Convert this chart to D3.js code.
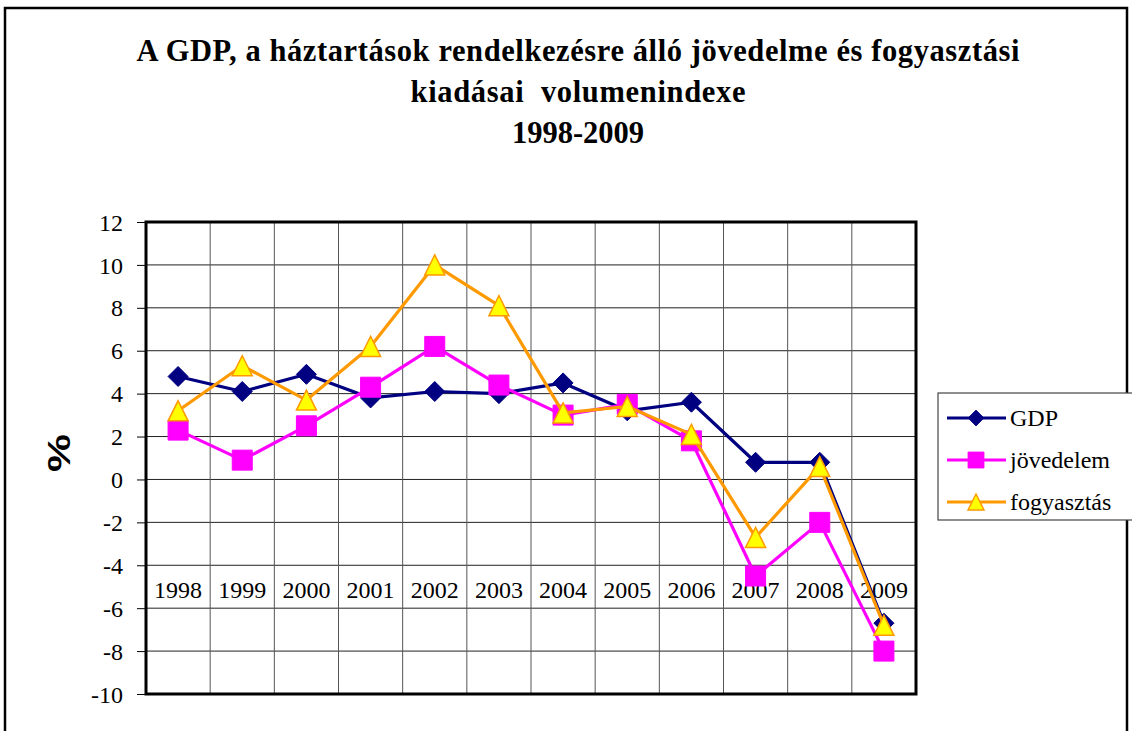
<!DOCTYPE html>
<html>
<head>
<meta charset="utf-8">
<script src="https://cdn.jsdelivr.net/npm/d3@7"></script>
<style>
  body { margin: 0; background: #fff; }
  svg { display: block; }
</style>
</head>
<body>
<div id="chart"></div>
<script>
(function() {

  var width = 1132, height = 731;

  // chart data
  var years = ["1998", "1999", "2000", "2001", "2002", "2003", "2004", "2005", "2006", "2007", "2008", "2009"];
  var gdp = [4.8, 4.1, 4.9, 3.8, 4.1, 4.0, 4.5, 3.2, 3.6, 0.8, 0.8, -6.7];
  var jovedelem = [2.3, 0.9, 2.5, 4.3, 6.2, 4.4, 3.0, 3.5, 1.8, -4.5, -2.0, -8.0];
  var fogyasztas = [3.2, 5.3, 3.7, 6.2, 10.0, 8.1, 3.1, 3.4, 2.1, -2.7, 0.6, -6.8];
  var yTicks = [-10, -8, -6, -4, -2, 0, 2, 4, 6, 8, 10, 12];
  var titleLines = ["A GDP, a háztartások rendelkezésre álló jövedelme és fogyasztási", "kiadásai  volumenindexe", "1998-2009"];
  var titleWidths = [883, 335, 132];

  var series = [
    { name: "GDP", values: gdp, line: "#000080", fill: "#000080", stroke: "#000080", shape: "diamond" },
    { name: "jövedelem", values: jovedelem, line: "#ff00ff", fill: "#ff00ff", stroke: "#ff00ff", shape: "square" },
    { name: "fogyasztás", values: fogyasztas, line: "#ff9900", fill: "#ffff00", stroke: "#ff9900", shape: "triangle" }
  ];

  var serif = "'Liberation Serif', 'Times New Roman', serif";

  var svg = d3.select("#chart")
    .append("svg")
    .attr("width", width)
    .attr("height", height);

  // outer chart border
  svg.append("rect")
    .attr("x", 5).attr("y", 8)
    .attr("width", 1122).attr("height", 740)
    .attr("fill", "none")
    .attr("stroke", "#000")
    .attr("stroke-width", 2.5);

  // title
  svg.append("g").selectAll("text")
    .data(titleLines)
    .enter().append("text")
    .attr("x", 578)
    .attr("y", function(d, i) { return 61 + i * 41; })
    .attr("text-anchor", "middle")
    .attr("font-family", serif)
    .attr("font-weight", "bold")
    .attr("font-size", 30.5)
    .attr("textLength", function(d, i) { return titleWidths[i]; })
    .attr("lengthAdjust", "spacing")
    .style("white-space", "pre")
    .text(function(d) { return d; });

  var plot = { left: 146, top: 222, right: 916, bottom: 694 };

  var x = d3.scaleBand().domain(years).range([plot.left, plot.right]);
  var y = d3.scaleLinear().domain([-10, 12]).range([plot.bottom, plot.top]);

  // plot background
  svg.append("rect")
    .attr("x", plot.left).attr("y", plot.top)
    .attr("width", plot.right - plot.left).attr("height", plot.bottom - plot.top)
    .attr("fill", "#fff");

  // horizontal gridlines
  svg.append("g").selectAll("line")
    .data(yTicks)
    .enter().append("line")
    .attr("x1", plot.left).attr("x2", plot.right)
    .attr("y1", function(d) { return y(d); })
    .attr("y2", function(d) { return y(d); })
    .attr("stroke", "#222")
    .attr("stroke-width", 1);

  // vertical gridlines at category boundaries
  svg.append("g").selectAll("line")
    .data(years.slice(1))
    .enter().append("line")
    .attr("x1", function(d) { return x(d); })
    .attr("x2", function(d) { return x(d); })
    .attr("y1", plot.top).attr("y2", plot.bottom)
    .attr("stroke", "#555")
    .attr("stroke-width", 1);

  // y axis
  var yAxis = svg.append("g")
    .attr("transform", "translate(" + plot.left + ",0)")
    .call(d3.axisLeft(y).tickValues(yTicks).tickSize(9).tickPadding(14)
      .tickFormat(function(d) { return d < 0 ? "-" + Math.abs(d) : String(d); }));
  yAxis.select(".domain").remove();
  yAxis.selectAll("line").attr("stroke", "#000");
  yAxis.selectAll("text")
    .attr("font-family", serif)
    .attr("font-size", 24)
    .attr("fill", "#000")
    .attr("dy", "0.34em");

  // category labels (drawn below the -4 line)
  svg.append("g").selectAll("text")
    .data(years)
    .enter().append("text")
    .attr("x", function(d) { return x(d) + x.bandwidth() / 2; })
    .attr("y", y(-5) + 11)
    .attr("text-anchor", "middle")
    .attr("font-family", serif)
    .attr("font-size", 24)
    .text(function(d) { return d; });

  // plot border
  svg.append("rect")
    .attr("x", plot.left).attr("y", plot.top)
    .attr("width", plot.right - plot.left).attr("height", plot.bottom - plot.top)
    .attr("fill", "none")
    .attr("stroke", "#000")
    .attr("stroke-width", 3);

  // y axis title
  svg.append("text")
    .attr("transform", "translate(70,453) rotate(-90)")
    .attr("text-anchor", "middle")
    .attr("font-family", "'Liberation Sans', Arial, sans-serif")
    .attr("font-weight", "bold")
    .attr("font-size", 31)
    .attr("textLength", 38)
    .attr("lengthAdjust", "spacingAndGlyphs")
    .text("%");

  function markerPath(shape) {
    if (shape === "diamond") return "M0,-10L10,0L0,10L-10,0Z";
    if (shape === "square") return "M-10,-10H10V10H-10Z";
    return "M0,-10L10,10L-10,10Z";
  }

  var line = d3.line()
    .x(function(d, i) { return x(years[i]) + x.bandwidth() / 2; })
    .y(function(d) { return y(d); });

  series.forEach(function(s) {
    var g = svg.append("g");
    g.append("path")
      .attr("d", line(s.values))
      .attr("fill", "none")
      .attr("stroke", s.line)
      .attr("stroke-width", 3.2)
      .attr("stroke-linejoin", "round");
    g.selectAll(".marker")
      .data(s.values)
      .enter().append("path")
      .attr("class", "marker")
      .attr("transform", function(d, i) {
        return "translate(" + (x(years[i]) + x.bandwidth() / 2) + "," + y(d) + ")";
      })
      .attr("d", markerPath(s.shape))
      .attr("fill", s.fill)
      .attr("stroke", s.stroke)
      .attr("stroke-width", s.shape === "triangle" ? 1.5 : 1);
  });

  // legend
  var legend = svg.append("g");
  legend.append("rect")
    .attr("x", 938).attr("y", 393)
    .attr("width", 210).attr("height", 127)
    .attr("fill", "#fff")
    .attr("stroke", "#444")
    .attr("stroke-width", 1.2);

  var items = legend.selectAll(".item")
    .data(series)
    .enter().append("g")
    .attr("class", "item")
    .attr("transform", function(d, i) { return "translate(0," + (418 + i * 42) + ")"; });

  items.append("line")
    .attr("x1", 947).attr("x2", 1006)
    .attr("stroke", function(d) { return d.line; })
    .attr("stroke-width", 3.2);
  items.append("path")
    .attr("transform", "translate(976,0) scale(0.8)")
    .attr("d", function(d) { return markerPath(d.shape); })
    .attr("fill", function(d) { return d.fill; })
    .attr("stroke", function(d) { return d.stroke; })
    .attr("stroke-width", function(d) { return d.shape === "triangle" ? 1.8 : 1; });
  items.append("text")
    .attr("x", 1010)
    .attr("dy", "0.34em")
    .attr("font-family", serif)
    .attr("font-size", 24)
    .text(function(d) { return d.name; });

})();
</script>
</body>
</html>
